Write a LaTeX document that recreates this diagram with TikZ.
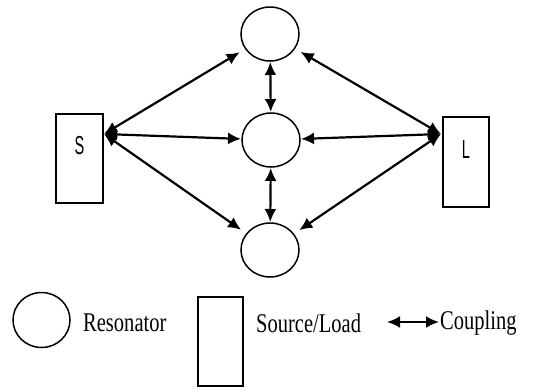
\documentclass[tikz,border=0pt]{standalone}
\usepackage{fontspec}
\usepackage{graphicx}
\usetikzlibrary{positioning,shapes.geometric,arrows.meta}
\newfontfamily\legendfont{Liberation Serif}
\newfontfamily\portfont{Liberation Sans}
\newcommand\legtext[1]{\scalebox{0.76}[1]{\fontsize{27pt}{27pt}\legendfont #1}}
\newcommand\porttext[1]{\raisebox{4pt}[0pt][0pt]{\scalebox{0.56}[1]{\fontsize{26pt}{26pt}\portfont #1}}}

\tikzset{
  res/.style={ellipse,draw,line width=1.5pt,minimum width=58,minimum height=54,inner sep=0pt,outer sep=1pt},
  port/.style={rectangle,draw,line width=1.5pt,minimum width=46,minimum height=89,inner sep=0pt},
  cpl/.style={line width=2.2pt,{Latex[length=13pt,width=12pt]}-{Latex[length=13pt,width=12pt]}},
  leg/.style={inner sep=0pt,anchor=west}
}

\begin{document}
\begin{tikzpicture}[x=1pt,y=-1pt]
\useasboundingbox (0,0) rectangle (541,389);

\node[res] (R1) at (270,34) {};
\node[res] (R2) at (271,140) {};
\node[res] (R3) at (270,250) {};

\node[port,minimum width=47] (S) at (79.5,158.5) {\porttext{S}};
\node[port,minimum height=90] (L) at (466,162) {\porttext{L}};

\coordinate (sp) at (104,134);
\coordinate (lp) at (441,134);

\draw[cpl,shorten >=6pt] (sp) -- (R1);
\draw[cpl] (sp) -- (R2);
\draw[cpl,shorten >=6pt] (sp) -- (R3);
\draw[cpl,shorten >=6pt] (lp) -- (R1);
\draw[cpl] (lp) -- (R2);
\draw[cpl,shorten >=6pt] (lp) -- (R3);
\draw[cpl] (R1) -- (R2);
\draw[cpl] (R2) -- (R3);

% legend
\node[res,minimum width=57,minimum height=55] (kres) at (41.5,320) {};
\node[leg] (tres) at (83,323) {\legtext{Resonator}};
\node[port,minimum width=45] (kport) at (220.5,341.5) {};
\node[leg] (tport) at (256,323) {\legtext{Source/Load}};
\coordinate (ka) at (387,322);
\coordinate (kb) at (439,322);
\draw[cpl] (ka) -- (kb);
\node[leg] (tcpl) at (440,323) {\legtext{Coupling}};

\end{tikzpicture}
\end{document}
